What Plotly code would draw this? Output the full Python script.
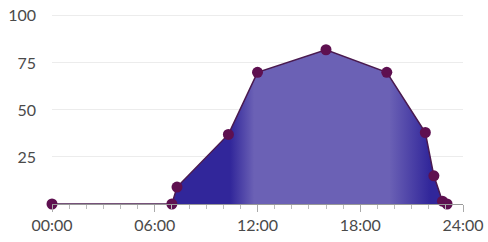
import plotly.graph_objects as go

hours = [0, 7.0, 7.3, 10.3, 12.0, 16.0, 19.55, 21.8, 22.3, 22.8, 23.07]
values = [0, 0, 9, 37, 70, 82, 70, 38, 15, 1.5, 0]
x_tickvals = [0, 6, 12, 18, 24]
x_ticktext = ["00:00", "06:00", "12:00", "18:00", "24:00"]
y_tickvals = [25, 50, 75, 100]

dark = "#31269a"
light = "#6b61b5"
g0, g1 = 7.0, 23.07
def pos(h):
    return (h - g0) / (g1 - g0)

fig = go.Figure()
fig.add_trace(go.Scatter(
    x=hours, y=values, mode="lines+markers",
    line=dict(color="#4a1a4f", width=1.5),
    marker=dict(color="#5e1050", size=11),
    fill="tozeroy",
    fillgradient=dict(
        type="horizontal", start=g0, stop=g1,
        colorscale=[[0, dark], [pos(10.4), dark], [pos(11.8), light],
                    [pos(19.7), light], [pos(22.1), dark], [1, dark]],
    ),
    cliponaxis=False,
    hoverinfo="skip",
))

font = dict(family="Lato, Open Sans, sans-serif", size=16, color="#4a4a4a")
fig.update_layout(
    width=488, height=242,
    margin=dict(l=52, r=25, t=14, b=38),
    paper_bgcolor="white", plot_bgcolor="white",
    showlegend=False,
    font=font,
    xaxis=dict(
        range=[0, 24], tickvals=x_tickvals, ticktext=x_ticktext,
        automargin=False, ticklabeloverflow="allow",
        showgrid=False, zeroline=False,
        showline=True, linecolor="#999999", linewidth=1,
        ticks="outside", ticklen=7, tickcolor="#aaaaaa", tickwidth=1,
        minor=dict(dtick=1, ticks="outside", ticklen=4, tickcolor="#bbbbbb", tickwidth=1),
        tickfont=font,
    ),
    yaxis=dict(
        range=[0, 101], tickvals=y_tickvals,
        automargin=False, ticklabeloverflow="allow",
        showgrid=True, gridcolor="#ececec", gridwidth=1,
        zeroline=False, showline=False,
        ticklabelstandoff=15,
        tickfont=font,
    ),
)
fig.write_html("out.html", config={"displayModeBar": False},
               post_script="document.body.style.margin='0';")
